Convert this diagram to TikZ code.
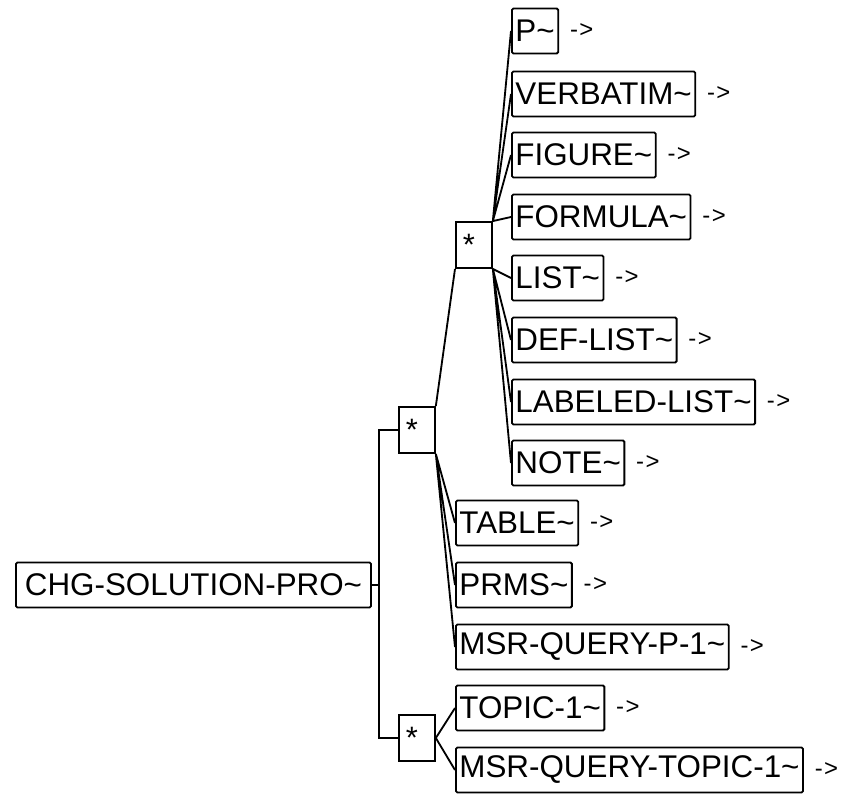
\documentclass[tikz,border=0pt]{standalone}
\usepackage{fontspec}
\setmainfont{Liberation Sans}
\usetikzlibrary{positioning}

\begin{document}
\begin{tikzpicture}[x=0.025cm,y=-0.025cm,line width=1.3pt,
    tagbox/.style={draw,rounded corners=1pt,anchor=west,
      minimum height=1.125cm,inner xsep=2.5pt,
      font=\fontsize{22.3}{26}\selectfont},
    starbox/.style={draw,anchor=west,minimum height=1.15cm,
      text width=0.55cm,inner xsep=0.175cm,align=left,
      font=\fontsize{22}{26}\selectfont},
    more/.style={inner sep=0pt,font=\fontsize{17}{20}\selectfont}]
  \useasboundingbox (0,0) rectangle (858,808);
  %% root and the two-level groups
  \node[tagbox,minimum width=8.875cm] (root) at (15,585)
    {CHG-SOLUTION-PRO\textasciitilde};
  \node[starbox] (s1) at (398,430) {*};
  \node[starbox] (s2) at (455,245) {*};
  \node[starbox] (s3) at (398,738) {*};
  %% children of the inner group
  \node[tagbox] (p) at (511,31) {P\textasciitilde};
  \node[tagbox] (verb) at (511,94) {VERBATIM\textasciitilde};
  \node[tagbox] (fig) at (511,155) {FIGURE\textasciitilde};
  \node[tagbox] (form) at (511,217) {FORMULA\textasciitilde};
  \node[tagbox] (list) at (511,278) {LIST\textasciitilde};
  \node[tagbox] (defl) at (511,340) {DEF-LIST\textasciitilde};
  \node[tagbox] (labl) at (511,402) {LABELED-LIST\textasciitilde};
  \node[tagbox] (note) at (511,463) {NOTE\textasciitilde};
  %% children of the first group
  \node[tagbox] (table) at (455,523) {TABLE\textasciitilde};
  \node[tagbox] (prms) at (455,585) {PRMS\textasciitilde};
  \node[tagbox] (msrp) at (455,647) {MSR-QUERY-P-1\textasciitilde};
  %% children of the second group
  \node[tagbox] (topic) at (455,708) {TOPIC-1\textasciitilde};
  \node[tagbox] (msrt) at (455,770) {MSR-QUERY-TOPIC-1\textasciitilde};
  %% arrows after each element
  \foreach \n in {p,verb,fig,form,list,defl,labl,note,table,prms,msrp,topic,msrt}
    \node[more,right=0.25cm of \n] (\n-more) {-\kern1pt>};
  %% connectors
  \draw (root.east) -- ++(7,0) coordinate (bus);
  \draw (s1.west) -| (bus) |- (s3.west);
  \draw (s1.north east) -- (s2.south west);
  \draw (s1.south east) -- (table.west)
        (s1.south east) -- (prms.west)
        (s1.south east) -- (msrp.west);
  \draw (s2.north east) -- (p.west)
        (s2.north east) -- (verb.west)
        (s2.north east) -- (fig.west)
        (s2.north east) -- (form.west);
  \draw (s2.south east) -- (list.west)
        (s2.south east) -- (defl.west)
        (s2.south east) -- (labl.west)
        (s2.south east) -- (note.west);
  \draw (s3.east) -- (topic.west)
        (s3.east) -- (msrt.west);
\end{tikzpicture}
\end{document}
